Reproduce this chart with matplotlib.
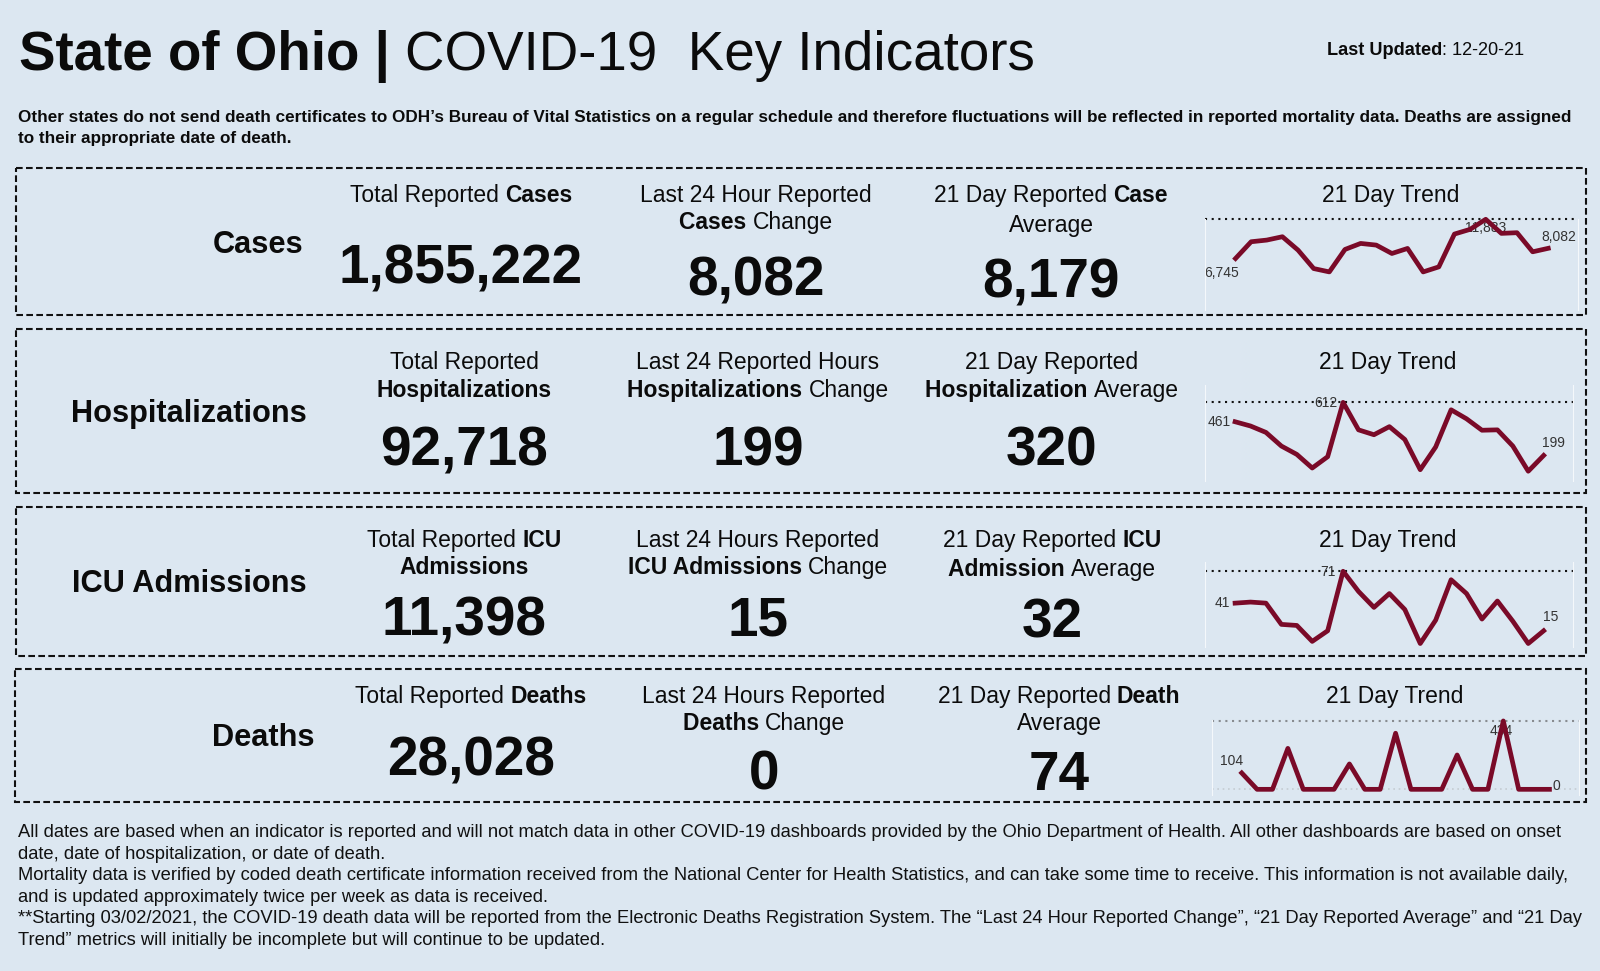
import matplotlib
matplotlib.use('Agg')
import matplotlib.pyplot as plt
from matplotlib.patches import Rectangle

plt.rcParams['font.family'] = ['Liberation Sans', 'DejaVu Sans']

BG = '#dce7f1'
INK = '#0b0b0b'
LINE = '#7a0a28'

# data
sections = ['Cases', 'Hospitalizations', 'ICU Admissions', 'Deaths']
totals = ['1,855,222', '92,718', '11,398', '28,028']
changes = ['8,082', '199', '15', '0']
averages = ['8,179', '320', '32', '74']

cases_trend = [6745, 8942, 9161, 9600, 7844, 5430, 4991, 7932, 8722, 8503, 7405,
               8064, 4991, 5649, 9951, 10566, 11883, 10039, 10127, 7625, 8082]
hosp_trend = [461, 428, 378, 272, 207, 101, 189, 612, 398, 360, 423,
              323, 88, 265, 554, 484, 395, 398, 272, 76, 199]
icu_trend = [41, 42, 41, 21, 20, 5, 15, 71, 52, 37, 50,
             35, 3, 25, 63, 50, 26, 43, 24, 3, 15]
death_trend = [104, 0, 0, 260, 0, 0, 0, 161, 0, 0, 356,
               0, 0, 0, 218, 0, 0, 434, 0, 0, 0]
trends = [cases_trend, hosp_trend, icu_trend, death_trend]

total_heads = [[[('Total Reported ', 0), ('Cases', 1)]],
               [[('Total Reported', 0)], [('Hospitalizations', 1)]],
               [[('Total Reported ', 0), ('ICU', 1)], [('Admissions', 1)]],
               [[('Total Reported ', 0), ('Deaths', 1)]]]
change_heads = [[[('Last 24 Hour Reported', 0)], [('Cases ', 1), ('Change', 0)]],
                [[('Last 24 Reported Hours', 0)], [('Hospitalizations ', 1), ('Change', 0)]],
                [[('Last 24 Hours Reported', 0)], [('ICU Admissions ', 1), ('Change', 0)]],
                [[('Last 24 Hours Reported', 0)], [('Deaths ', 1), ('Change', 0)]]]
avg_heads = [[[('21 Day Reported ', 0), ('Case', 1)], [('Average', 0)]],
             [[('21 Day Reported', 0)], [('Hospitalization ', 1), ('Average', 0)]],
             [[('21 Day Reported ', 0), ('ICU', 1)], [('Admission ', 1), ('Average', 0)]],
             [[('21 Day Reported ', 0), ('Death', 1)], [('Average', 0)]]]

note_lines = [
    'Other states do not send death certificates to ODH\u2019s Bureau of Vital Statistics on a regular schedule and therefore fluctuations will be reflected in reported mortality data. Deaths are assigned',
    'to their appropriate date of death.']
foot_lines = [
    'All dates are based when an indicator is reported and will not match data in other COVID-19 dashboards provided by the Ohio Department of Health. All other dashboards are based on onset',
    'date, date of hospitalization, or date of death.',
    'Mortality data is verified by coded death certificate information received from the National Center for Health Statistics, and can take some time to receive. This information is not available daily,',
    'and is updated approximately twice per week as data is received.',
    '**Starting 03/02/2021, the COVID-19 death data will be reported from the Electronic Deaths Registration System. The \u201cLast 24 Hour Reported Change\u201d, \u201c21 Day Reported Average\u201d and \u201c21 Day',
    'Trend\u201d metrics will initially be incomplete but will continue to be updated.']

# layout, all in pixels of the 1600x971 picture
W, H = 1600, 971
boxes = [(15.5, 168, 1570, 147), (15.5, 329.5, 1570, 163.5), (15.5, 507, 1570, 149), (14.5, 669.5, 1571, 133)]
label_right = [303, 306.5, 306.5, 314.5]
label_base = [253, 422, 592, 746]
col_x = [[461, 756, 1051], [464, 758, 1052], [464, 758, 1052], [471, 764, 1059]]
trend_x = [1391, 1388, 1388, 1395]
head_base = [[[202, 229], [202, 229], [202, 232]],
             [[369, 397], [369, 397], [369, 397]],
             [[547, 574], [547, 574], [547, 576]],
             [[703, 730], [703, 730], [703, 730]]]
trend_head_base = [202, 369, 547, 703]
num_base = [[283, 296, 298], [465, 465, 465], [635, 635, 637], [776, 790, 790]]
axes_px = [(1205, 219.3, 373, 90.7), (1205, 385, 368, 96), (1205, 561.7, 368, 85), (1211.7, 720, 367, 75)]
y_limits = [(0, 11883), (0, 747), (0, 80), (-36, 440)]
label_off = [[(4, -14, 'right'), (0, -9, 'center'), (-6.5, 11, 'left')],
             [(-4, 0, 'right'), (-6, -1, 'right'), (-2, 12, 'left')],
             [(-5, 0, 'right'), (-7, -1, 'right'), (-1, 14, 'left')],
             [(-10, 12, 'center'), (-2, -10, 'center'), (3, 3, 'left')]]

fig = plt.figure(figsize=(W / 100, H / 100), dpi=100, facecolor=BG)
bg = fig.add_axes([0, 0, 1, 1])
bg.set_xlim(0, W)
bg.set_ylim(H, 0)
bg.axis('off')
rend = fig.canvas.get_renderer()


def width_of(s, size, bold):
    w = 'bold' if bold else 'normal'
    a = bg.text(0, 0, s + '.', fontsize=size, fontweight=w)
    b = bg.text(0, 0, '.', fontsize=size, fontweight=w)
    out = a.get_window_extent(rend).width - b.get_window_extent(rend).width
    a.remove()
    b.remove()
    return out


def rich(parts, x, y, size, center=True):
    total = sum(width_of(s, size, b) for s, b in parts)
    cur = x - total / 2 if center else x
    for s, b in parts:
        bg.text(cur, y, s, fontsize=size, fontweight='bold' if b else 'normal',
                color=INK, ha='left', va='baseline')
        cur += width_of(s, size, b)


# header
rich([('State of Ohio | ', 1), ('COVID-19  Key Indicators', 0)], 19, 70, 39.4, center=False)
rich([('Last Updated', 1), (': 12-20-21', 0)], 1327, 55, 13.1, center=False)
for i, line in enumerate(note_lines):
    bg.text(18.5, 122 + i * 20.5, line, fontsize=12.33, fontweight='bold', color=INK, va='baseline')

# rows
for r, name in enumerate(sections):
    x0, y0, bw, bh = boxes[r]
    bg.add_patch(Rectangle((x0, y0), bw, bh, fill=False, ec='#111111', lw=1.5, ls=(0, (3.2, 1.6))))
    bg.text(label_right[r], label_base[r], name, fontsize=22.15, fontweight='bold', color=INK, ha='right', va='baseline')
    for c, (heads, nums) in enumerate(zip((total_heads, change_heads, avg_heads), (totals, changes, averages))):
        for k, parts in enumerate(heads[r]):
            rich(parts, col_x[r][c], head_base[r][c][k], 16.5)
        bg.text(col_x[r][c], num_base[r][c], nums[r], fontsize=39.5, fontweight='bold', color=INK, ha='center', va='baseline')
    bg.text(trend_x[r], trend_head_base[r], '21 Day Trend', fontsize=16.5, color=INK, ha='center', va='baseline')

    # sparkline
    px, py, pw, ph = axes_px[r]
    ax = fig.add_axes([px / W, 1 - (py + ph) / H, pw / W, ph / H])
    ax.patch.set_alpha(0)
    vals = trends[r]
    days = list(range(len(vals)))
    ax.set_xlim(-1.95, 21.9)
    ax.set_ylim(*y_limits[r])
    ax.set_xticks([])
    ax.set_yticks([])
    for s in ('top', 'bottom'):
        ax.spines[s].set_visible(False)
    for s in ('left', 'right'):
        ax.spines[s].set_color('#f4f8fb')
        ax.spines[s].set_linewidth(0.8)
    dot_col = '#888c90' if r == 3 else '#111111'
    ax.axhline(max(vals), color=dot_col, lw=1.5, ls=(0, (1, 2.2)), zorder=1, clip_on=False)
    if r == 3:
        ax.axhline(0, color='#c4ccd2', lw=1.2, ls=(0, (1, 2.2)), zorder=1)
    peak = vals.index(max(vals))
    for (i, (dx, dy, ha)) in zip((0, peak, len(vals) - 1), label_off[r]):
        ax.annotate(f'{vals[i]:,}', (days[i], vals[i]), xytext=(dx * 0.72, dy * 0.72), textcoords='offset points',
                    fontsize=10, color='#333333', ha=ha, va='center', zorder=1.5, annotation_clip=False)
    ax.plot(days, vals, color=LINE, lw=3.4, solid_joinstyle='round', zorder=2, clip_on=False)

# footer
for i, line in enumerate(foot_lines):
    bg.text(18.5, 837 + i * 21.6, line, fontsize=13.25, color='#111111', va='baseline')

fig.savefig('out.png', dpi=100, facecolor=BG)
